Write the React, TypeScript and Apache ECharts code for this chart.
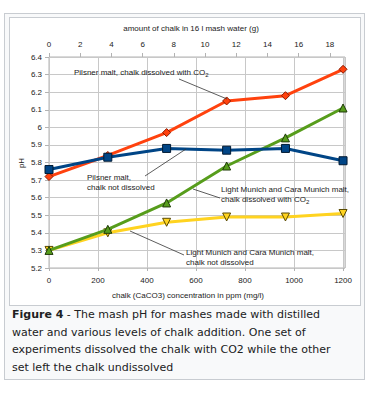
import React, { useEffect, useRef } from "react";
import * as echarts from "echarts";

const ppm = [0, 240, 480, 725, 965, 1200];
const pilsnerDissolved = [5.72, 5.84, 5.97, 6.15, 6.18, 6.33];
const pilsnerNotDissolved = [5.76, 5.83, 5.88, 5.87, 5.88, 5.81];
const munichDissolved = [5.3, 5.42, 5.57, 5.78, 5.94, 6.11];
const munichNotDissolved = [5.3, 5.4, 5.46, 5.49, 5.49, 5.51];

const bottomTitle = "chalk (CaCO3) concentration in ppm (mg/l)";
const topTitle = "amount of chalk in 16 l mash water (g)";
const yTitle = "pH";

const FONT = "'Liberation Sans', Arial, sans-serif";

function pairs(ys: number[]) {
  return ys.map((y, i) => [ppm[i], y]);
}

export default function App() {
  const ref = useRef<HTMLDivElement>(null);
  useEffect(() => {
    document.body.style.margin = "0";
    const chart = echarts.init(ref.current!, null, { renderer: "svg" });
    const labelStyle = { color: "#222", fontSize: 8, fontFamily: FONT };
    const lineStyle = (c: string) => ({ color: c, width: 3 });
    const txt = (x: number, y: number, text: string, extra: any = {}) => ({
      type: "text",
      x,
      y,
      z: 100,
      style: {
        text,
        fill: "#222",
        font: `8px ${FONT}`,
        textVerticalAlign: "middle",
        verticalAlign: "middle",
        lineHeight: 10,
        rich: {
          n: { fontSize: 8, fontFamily: FONT, lineHeight: 10, fill: "#222" },
          s: { fontSize: 6, fontFamily: FONT, verticalAlign: "bottom", fill: "#222" },
        },
        ...extra,
      },
    });
    const ln = (x1: number, y1: number, x2: number, y2: number) => ({
      type: "line",
      z: 100,
      shape: { x1, y1, x2, y2 },
      style: { stroke: "#333", lineWidth: 0.8 },
    });
    chart.setOption({
      animation: false,
      backgroundColor: "transparent",
      grid: {
        left: 49,
        right: 27,
        top: 57,
        bottom: 125,
        show: true,
        borderColor: "#b3b3b3",
        borderWidth: 1,
        backgroundColor: "transparent",
      },
      xAxis: [
        {
          type: "value",
          min: 0,
          max: 1208,
          interval: 200,
          position: "bottom",
          axisLine: { show: false },
          axisTick: { show: true, length: 3, lineStyle: { color: "#b3b3b3" } },
          splitLine: { show: true, lineStyle: { color: "#c8c8c8", width: 1 } },
          axisLabel: { ...labelStyle, margin: 8, showMaxLabel: false, formatter: (v: number) => String(v) },
        },
        {
          type: "value",
          min: 0,
          max: 18.97,
          interval: 2,
          position: "top",
          axisLine: { show: false },
          axisTick: { show: true, length: 4, lineStyle: { color: "#b3b3b3" } },
          splitLine: { show: false },
          axisLabel: { ...labelStyle, margin: 9, showMaxLabel: false, formatter: (v: number) => String(v) },
        },
      ],
      yAxis: {
        type: "value",
        min: 5.2,
        max: 6.4,
        interval: 0.1,
        axisLine: { show: false },
        axisTick: { show: true, length: 4, lineStyle: { color: "#b3b3b3" } },
        splitLine: { show: true, lineStyle: { color: "#c8c8c8", width: 1 } },
        axisLabel: { ...labelStyle, margin: 7 },
      },
      series: [
        {
          type: "line",
          name: "Light Munich and Cara Munich malt, chalk not dissolved",
          data: pairs(munichNotDissolved),
          lineStyle: lineStyle("#ffd320"),
          itemStyle: { color: "#ffd320", borderColor: "#5a4a00", borderWidth: 1 },
          symbol: "triangle",
          symbolRotate: 180,
          symbolSize: 8,
          z: 2,
        },
        {
          type: "line",
          name: "Light Munich and Cara Munich malt, chalk dissolved with CO2",
          data: pairs(munichDissolved),
          lineStyle: lineStyle("#579d1c"),
          itemStyle: { color: "#579d1c", borderColor: "#1f3a08", borderWidth: 1 },
          symbol: "triangle",
          symbolSize: 8,
          z: 3,
        },
        {
          type: "line",
          name: "Pilsner malt, chalk dissolved with CO2",
          data: pairs(pilsnerDissolved),
          lineStyle: lineStyle("#ff420e"),
          itemStyle: { color: "#ff420e", borderColor: "#8a1a00", borderWidth: 1 },
          symbol: "diamond",
          symbolSize: 8,
          z: 4,
        },
        {
          type: "line",
          name: "Pilsner malt, chalk not dissolved",
          data: pairs(pilsnerNotDissolved),
          lineStyle: lineStyle("#004586"),
          itemStyle: { color: "#004586", borderColor: "#001a33", borderWidth: 1 },
          symbol: "rect",
          symbolSize: 8,
          z: 5,
        },
      ],
      graphic: [
        txt(191, 28, topTitle, { textAlign: "center", align: "center" }),
        txt(188, 295, bottomTitle, { textAlign: "center", align: "center" }),
        { ...txt(21.5, 163, yTitle, { textAlign: "center", align: "center" }), rotation: Math.PI / 2 },
        txt(74, 72.5, "{n|Pilsner malt, chalk dissolved with CO}{s|2}"),
        ln(179, 79, 227, 99),
        txt(87, 182.5, "{n|Pilsner malt,}\n{n|chalk not dissolved}"),
        ln(145, 176, 186, 149),
        txt(221, 194.5, "{n|Light Munich and Cara Munich malt,}\n{n|chalk dissolved with CO}{s|2}"),
        ln(193, 189, 220, 198),
        txt(186, 257.5, "{n|Light Munich and Cara Munich malt,}\n{n|chalk not dissolved}"),
        ln(130, 231, 184, 255),
      ],
    });
    return () => chart.dispose();
  }, []);

  return (
    <div style={{ position: "fixed", left: 0, top: 0, width: 372, height: 393, background: "#fff", overflow: "hidden" }}>
      <div
        style={{
          position: "absolute",
          left: 4,
          top: 13,
          width: 361,
          height: 367,
          boxSizing: "border-box",
          background: "#f8f9fa",
          border: "1px solid #c8ccd1",
        }}
      />
      <div
        style={{
          position: "absolute",
          left: 9,
          top: 17,
          width: 352,
          height: 289,
          boxSizing: "border-box",
          background: "#fff",
          border: "1px solid #c8ccd1",
        }}
      />
      <div
        style={{
          position: "absolute",
          left: 12,
          top: 306,
          whiteSpace: "nowrap",
          fontFamily: "'DejaVu Sans', sans-serif",
          fontSize: 11,
          lineHeight: "17.5px",
          color: "#202122",
        }}
      >
        <b>Figure 4</b> - The mash pH for mashes made with distilled
        <br />
        water and various levels of chalk addition. One set of
        <br />
        experiments dissolved the chalk with CO2 while the other
        <br />
        set left the chalk undissolved
      </div>
      <div ref={ref} style={{ position: "absolute", left: 0, top: 0, width: 372, height: 393 }} />
    </div>
  );
}
